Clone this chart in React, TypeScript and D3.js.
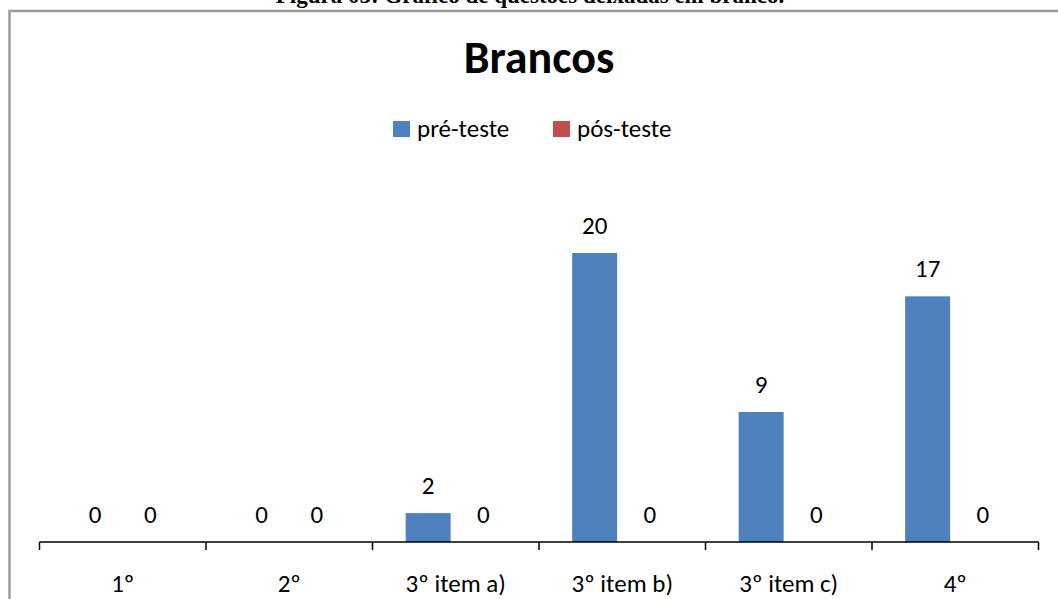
import { useEffect, useRef } from 'react'
import * as d3 from 'd3'

const categories = ['1º', '2º', '3º item a)', '3º item b)', '3º item c)', '4º']
const series = ['pré-teste', 'pós-teste']
const preTeste = [0, 0, 2, 20, 9, 17]
const posTeste = [0, 0, 0, 0, 0, 0]
const colors = ['#4F81BD', '#C0504D']

const W = 1058
const H = 599
const FONT = "Carlito, Calibri, Lato, 'Open Sans', sans-serif"
const FS = 25

export default function App() {
  const ref = useRef<SVGSVGElement>(null)

  useEffect(() => {
    const svg = d3.select(ref.current!)
    svg.selectAll('*').remove()

    // caption of the figure, cut off at the top of the page
    svg.append('text').attr('x', 530).attr('y', 3).attr('text-anchor', 'middle')
      .attr('font-family', "'Liberation Serif', 'Times New Roman', serif")
      .attr('font-weight', 'bold').attr('font-size', 23)
      .text('Figura 05: Gráfico de questões deixadas em branco.')

    // chart frame
    svg.append('rect').attr('x', 9.5).attr('y', 11).attr('width', W + 20).attr('height', H + 20)
      .attr('fill', 'white').attr('stroke', '#9a9a9a').attr('stroke-width', 2.5)

    const x = d3.scaleBand<string>().domain(categories).range([39.5, 1038.5])
    const y = d3.scaleLinear().domain([0, 25]).range([542, 180.75])
    const barW = 45
    const off = 27.6

    svg.append('text').attr('x', 539).attr('y', 73).attr('text-anchor', 'middle')
      .attr('font-family', FONT).attr('font-weight', 'bold').attr('font-size', 46)
      .attr('fill', '#000').text('Brancos')

    // legend
    const leg = svg.append('g').attr('font-family', FONT).attr('font-size', FS)
    const legX = [393, 553]
    series.forEach((s, i) => {
      leg.append('rect').attr('x', legX[i]).attr('y', 121).attr('width', 17).attr('height', 16)
        .attr('fill', colors[i])
      leg.append('text').attr('x', legX[i] + 24).attr('y', 137).attr('fill', '#000').text(s)
    })

    const data = [preTeste, posTeste]
    data.forEach((vals, si) => {
      const g = svg.append('g')
      vals.forEach((v, ci) => {
        const cx = x(categories[ci])! + x.bandwidth() / 2 + (si === 0 ? -off : off)
        if (v > 0) {
          g.append('rect').attr('x', cx - barW / 2).attr('y', y(v)).attr('width', barW)
            .attr('height', y(0) - y(v)).attr('fill', colors[si])
        }
        g.append('text').attr('x', cx).attr('y', y(v) - 19).attr('text-anchor', 'middle')
          .attr('font-family', FONT).attr('font-size', FS).attr('fill', '#000').text(String(v))
      })
    })

    // category axis
    const ax = svg.append('g')
    ax.append('line').attr('x1', 39.5).attr('x2', 1038.5).attr('y1', 542).attr('y2', 542)
      .attr('stroke', '#000').attr('stroke-width', 1.5)
    const edges = categories.map((c) => x(c)!).concat([x.range()[1]])
    edges.forEach((e) => {
      ax.append('line').attr('x1', e).attr('x2', e).attr('y1', 542).attr('y2', 550)
        .attr('stroke', '#000').attr('stroke-width', 1.5)
    })
    categories.forEach((c) => {
      ax.append('text').attr('x', x(c)! + x.bandwidth() / 2).attr('y', 592)
        .attr('text-anchor', 'middle').attr('font-family', FONT).attr('font-size', FS)
        .attr('fill', '#000').text(c)
    })
  }, [])

  return (
    <svg ref={ref} width={W} height={H}
      style={{ position: 'fixed', left: 0, top: 0, display: 'block', background: 'white' }} />
  )
}
